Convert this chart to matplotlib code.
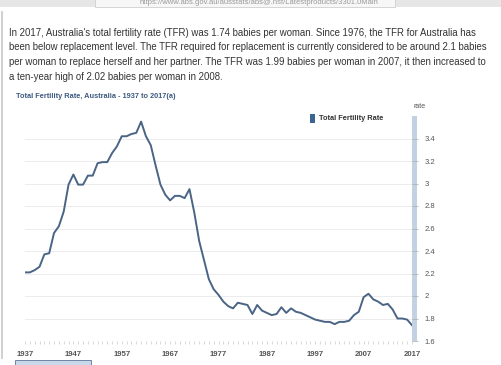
import matplotlib
matplotlib.use("Agg")
import matplotlib.pyplot as plt
from matplotlib.patches import Rectangle

plt.rcParams['font.family'] = ['Liberation Sans', 'DejaVu Sans']

# Total fertility rate, Australia, 1937-2017
years = list(range(1937, 2018))
tfr = [2.21, 2.21, 2.23, 2.26, 2.37, 2.38, 2.56, 2.62, 2.75, 2.99,
       3.08, 2.99, 2.99, 3.07, 3.07, 3.18, 3.19, 3.19, 3.27, 3.33,
       3.42, 3.42, 3.44, 3.45, 3.55, 3.42, 3.34, 3.16, 2.99, 2.90,
       2.85, 2.89, 2.89, 2.87, 2.95, 2.74, 2.49, 2.32, 2.15, 2.06,
       2.01, 1.95, 1.91, 1.89, 1.94, 1.93, 1.92, 1.84, 1.92, 1.87,
       1.85, 1.83, 1.84, 1.90, 1.85, 1.89, 1.86, 1.85, 1.83, 1.81,
       1.79, 1.78, 1.77, 1.77, 1.75, 1.77, 1.77, 1.78, 1.83, 1.86,
       1.99, 2.02, 1.97, 1.95, 1.92, 1.93, 1.88, 1.80, 1.80, 1.79,
       1.74]
xticks = list(range(1937, 2018, 10))
yticks = [1.6, 1.8, 2.0, 2.2, 2.4, 2.6, 2.8, 3.0, 3.2, 3.4]
ytick_labels = ['1.6', '1.8', '2', '2.2', '2.4', '2.6', '2.8', '3', '3.2', '3.4']

paragraph = [
    "In 2017, Australia's total fertility rate (TFR) was 1.74 babies per woman. Since 1976, the TFR for Australia has",
    "been below replacement level. The TFR required for replacement is currently considered to be around 2.1 babies",
    "per woman to replace herself and her partner. The TFR was 1.99 babies per woman in 2007, it then increased to",
    "a ten-year high of 2.02 babies per woman in 2008.",
]

W, H = 502, 365
fig = plt.figure(figsize=(W / 100, H / 100), dpi=100)
fig.patch.set_facecolor('white')

def px(x, y):
    return x / W, 1 - y / H

# browser bar remnant at the top
fig.add_artist(Rectangle(px(0, 7), 1, 7 / H, transform=fig.transFigure,
                         facecolor='#e6e6e6', edgecolor='none'))
fig.add_artist(Rectangle(px(95, 7), 300 / W, 8 / H, transform=fig.transFigure,
                         facecolor='#f7f7f7', edgecolor='#cfcfcf', lw=0.6))
fig.text(*px(140, 3), "https://www.abs.gov.au/ausstats/abs@.nsf/Latestproducts/3301.0Main",
         fontsize=5.5, color='#999999', va='center')
# page left border
fig.add_artist(plt.Line2D([2 / W, 2 / W], [1 - 12 / H, 1 - 358 / H],
                          transform=fig.transFigure, color='#c8c8c8', lw=1.2))

for i, line in enumerate(paragraph):
    fig.text(*px(9, 33 + i * 14.5), line, fontsize=6.95, color='#333333', va='center')

fig.text(*px(16, 96), "Total Fertility Rate, Australia - 1937 to 2017(a)",
         fontsize=5.35, color='#3d5a80', fontweight='bold', va='center')

ax = fig.add_axes([25 / W, 24 / H, 387 / W, 225 / H])
ax.plot(years, tfr, color='#4a6485', lw=1.4)
ax.set_xlim(1937, 2017)
ax.set_ylim(1.6, 3.6)

for s in ax.spines.values():
    s.set_visible(False)
ax.yaxis.tick_right()
ax.set_yticks(yticks)
ax.set_yticklabels(ytick_labels)
ax.grid(axis='y', color='#ececec', lw=0.7)
ax.tick_params(axis='y', length=4, width=0.5, color='#aaaaaa', pad=5,
               labelsize=5.5, labelcolor='#555555')
ax.set_xticks(xticks)
ax.set_xticks(years, minor=True)
ax.tick_params(axis='x', which='both', length=2, width=0.4, color='#bbbbbb',
               labelsize=5.6, labelcolor='#555555', pad=5)
for lab in ax.get_xticklabels():
    lab.set_fontweight('bold')

# the light blue bar along the value axis
ax.add_patch(Rectangle((1.0, 0.0), 5 / 387, 1.0, transform=ax.transAxes,
                       facecolor='#c3d2e3', edgecolor='none', clip_on=False))
fig.text(*px(413, 107), "rate", fontsize=5, color='#555555', va='center')

# legend
fig.add_artist(Rectangle(px(310, 123), 5 / W, 9 / H, transform=fig.transFigure,
                         facecolor='#3d6594', edgecolor='none'))
fig.text(*px(319, 118), "Total Fertility Rate", fontsize=5.3, color='#333333',
         fontweight='bold', va='center')

# partly visible button at the bottom
fig.add_artist(Rectangle(px(15, 366), 76 / W, 6 / H, transform=fig.transFigure,
                         facecolor='#c9d9ea', edgecolor='#5a7596', lw=0.6))

fig.savefig('out.png', dpi=100)
